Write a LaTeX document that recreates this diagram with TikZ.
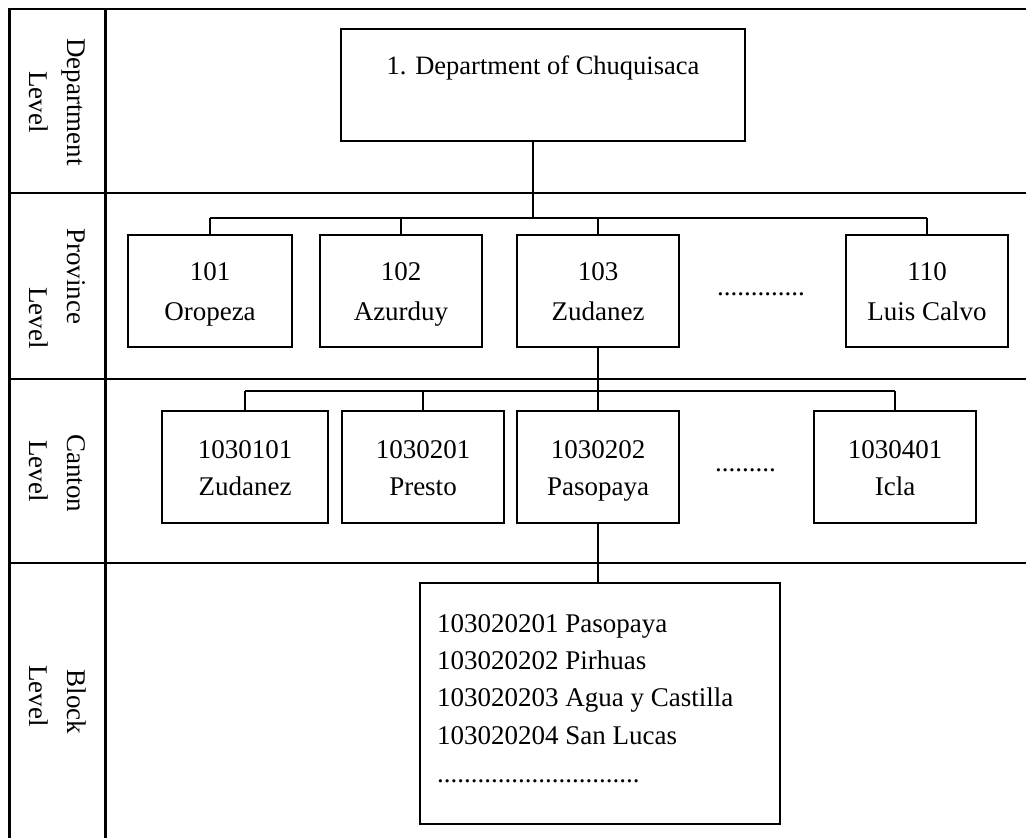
\documentclass[tikz,border=0pt]{standalone}
\usepackage{fontspec}
\setmainfont{Liberation Serif}
% struts that give every two-line box the same line heights
\newcommand\ustrut{\rule{0pt}{25pt}}
\newcommand\dstrut{\rule[-6pt]{0pt}{6pt}}
\begin{document}
\begin{tikzpicture}[x=1pt,y=-1pt,
  frame/.style={line width=3pt},
  rowline/.style={line width=1.2pt},
  unitbox/.style={draw,line width=1.8pt,align=center,inner sep=0pt,
    minimum height=112pt,font=\fontsize{27}{40}\selectfont},
  cantonbox/.style={unitbox,font=\fontsize{27}{37}\selectfont},
  conn/.style={line width=1.6pt},
  lvl/.style={rotate=-90,anchor=base,inner sep=0pt,font=\fontsize{27}{37}\selectfont},
  txt/.style={anchor=base west,inner sep=0pt,font=\fontsize{27}{37}\selectfont}]
\useasboundingbox (0,0) rectangle (1026,838);

% table frame: header column and level rows
\draw[rowline] (9,9) -- (1026,9);
\draw[rowline] (9,193) -- (1026,193);
\draw[rowline] (9,379) -- (1026,379);
\draw[rowline] (9,563) -- (1026,563);
\draw[frame] (9,7.5) -- (9,838);
\draw[frame] (105,7.5) -- (105,838);

% level labels
\node[lvl] (lv-dept-a) at (67,102) {Department};
\node[lvl] (lv-dept-b) at (30,102) {Level};
\node[lvl] (lv-prov-a) at (67,276) {Province};
\node[lvl] (lv-prov-b) at (30,318) {Level};
\node[lvl] (lv-cant-a) at (67,473) {Canton};
\node[lvl] (lv-cant-b) at (30,471) {Level};
\node[lvl] (lv-blk-a) at (67,702) {Block};
\node[lvl] (lv-blk-b) at (30,696) {Level};

% department
\node[unitbox,minimum width=404pt,text height=20pt,text depth=41pt,
  font=\fontsize{26.5}{40}\selectfont] (dept) at (543,85) {1. Department of Chuquisaca};

% provinces
\node[unitbox,minimum width=164pt] (p1) at (210,291) {\ustrut 101\\Oropeza\dstrut};
\node[unitbox,minimum width=162pt] (p2) at (401,291) {\ustrut 102\\Azurduy\dstrut};
\node[unitbox,minimum width=162pt] (p3) at (598,291) {\ustrut 103\\Zudanez\dstrut};
\node[unitbox,minimum width=162pt] (p4) at (927,291) {\ustrut 110\\Luis Calvo\dstrut};
\node[txt] (pdots) at (717,295) {.............};

% cantons
\node[cantonbox,minimum width=166pt] (c1) at (245,467) {\ustrut 1030101\\Zudanez\dstrut};
\node[cantonbox,minimum width=162pt] (c2) at (423,467) {\ustrut 1030201\\Presto\dstrut};
\node[cantonbox,minimum width=162pt] (c3) at (598,467) {\ustrut 1030202\\Pasopaya\dstrut};
\node[cantonbox,minimum width=162pt] (c4) at (895,467) {\ustrut 1030401\\Icla\dstrut};
\node[txt] (cdots) at (715,471) {.........};

% blocks of canton 1030202
\node[draw,line width=1.8pt,minimum width=360pt,minimum height=241pt,inner sep=0pt] (blk) at (600,703.5) {};
\node[txt] (b1) at (437,632) {103020201 Pasopaya};
\node[txt] (b2) at (437,669) {103020202 Pirhuas};
\node[txt] (b3) at (437,706) {103020203 Agua y Castilla};
\node[txt] (b4) at (437,744) {103020204 San Lucas};
\node[txt] (bdots) at (437,782) {..............................};

% connector buses
\coordinate (pbus) at (0,218);
\coordinate (cbus) at (0,391);

\draw[conn] ([xshift=-10pt]dept.south) -- ([xshift=-10pt]dept.south |- pbus);
\draw[conn] (p1.north |- pbus) -- (p4.north |- pbus);
\foreach \n in {p1,p2,p3,p4} \draw[conn] (\n.north) -- (\n.north |- pbus);

\draw[conn] (p3.south) -- (p3.south |- cbus);
\draw[conn] (c1.north |- cbus) -- (c4.north |- cbus);
\foreach \n in {c1,c2,c3,c4} \draw[conn] (\n.north) -- (\n.north |- cbus);

\draw[conn] (c3.south) -- (c3.south |- blk.north);
\end{tikzpicture}
\end{document}
